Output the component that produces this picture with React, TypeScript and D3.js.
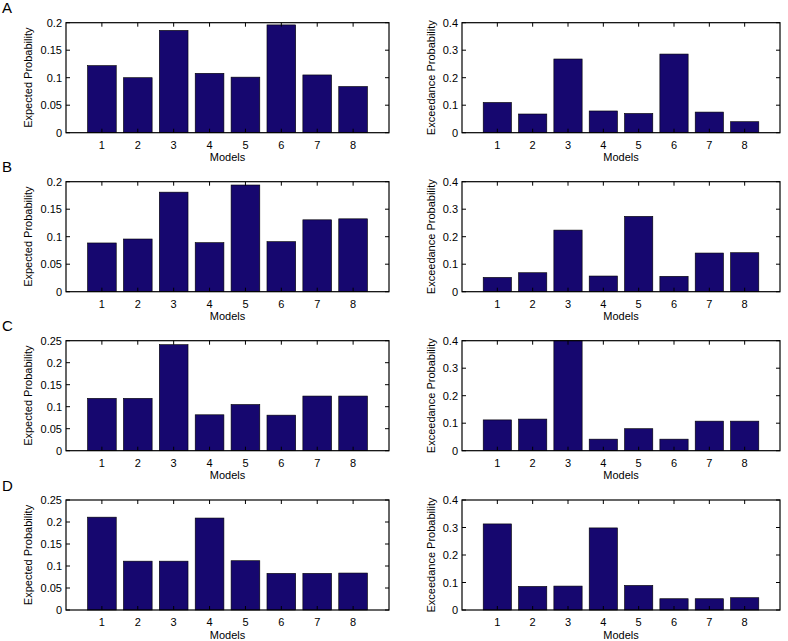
import React from "react";
import * as d3 from "d3";

const models = [1, 2, 3, 4, 5, 6, 7, 8];
const panelLetters = ["A", "B", "C", "D"];

const expectedA = [0.122, 0.1, 0.186, 0.108, 0.101, 0.196, 0.105, 0.084];
const exceedA = [0.11, 0.068, 0.268, 0.079, 0.07, 0.286, 0.075, 0.04];
const expectedB = [0.0886, 0.0958, 0.181, 0.0892, 0.194, 0.091, 0.1307, 0.1325];
const exceedB = [0.052, 0.069, 0.224, 0.057, 0.274, 0.056, 0.1406, 0.1418];
const expectedC = [0.119, 0.119, 0.241, 0.0816, 0.105, 0.0808, 0.1242, 0.1242];
const exceedC = [0.112, 0.115, 0.4, 0.042, 0.08, 0.042, 0.1075, 0.1075];
const expectedD = [0.211, 0.111, 0.111, 0.209, 0.112, 0.0833, 0.0833, 0.084];
const exceedD = [0.313, 0.0858, 0.087, 0.2985, 0.0894, 0.041, 0.041, 0.0447];

const ticksExp20 = [0, 0.05, 0.1, 0.15, 0.2];
const ticksExp25 = [0, 0.05, 0.1, 0.15, 0.2, 0.25];
const ticksExc = [0, 0.1, 0.2, 0.3, 0.4];

const expectedSeries = [expectedA, expectedB, expectedC, expectedD];
const exceedSeries = [exceedA, exceedB, exceedC, exceedD];
const expectedTicks = [ticksExp20, ticksExp20, ticksExp25, ticksExp25];

const FONT = "'Liberation Sans', Arial, Helvetica, sans-serif";
const BAR = "#16076f";

type PanelProps = {
  x0: number;
  x1: number;
  y0: number;
  y1: number;
  values: number[];
  ticks: number[];
  ylabel: string;
  labelX: number;
};

function Panel({ x0, x1, y0, y1, values, ticks, ylabel, labelX }: PanelProps) {
  const x = d3.scaleLinear().domain([0, 9]).range([x0, x1]);
  const y = d3
    .scaleLinear()
    .domain([0, ticks[ticks.length - 1]])
    .range([y1, y0]);
  const bw = x(0.8) - x(0);
  const tl = 4;
  return (
    <g>
      {values.map((v, i) => (
        <rect
          key={i}
          x={x(models[i]) - bw / 2}
          y={y(v)}
          width={bw}
          height={y1 - y(v)}
          fill={BAR}
          stroke="#000"
          strokeWidth={0.6}
        />
      ))}
      <rect x={x0} y={y0} width={x1 - x0} height={y1 - y0} fill="none" stroke="#000" strokeWidth={1.2} />
      {models.map((m) => (
        <g key={m}>
          <line x1={x(m)} x2={x(m)} y1={y1} y2={y1 - tl} stroke="#000" />
          <line x1={x(m)} x2={x(m)} y1={y0} y2={y0 + tl} stroke="#000" />
          <text x={x(m)} y={y1 + 16} textAnchor="middle" fontSize={11} fontFamily={FONT}>
            {m}
          </text>
        </g>
      ))}
      {ticks.map((t) => (
        <g key={t}>
          <line x1={x0} x2={x0 + tl} y1={y(t)} y2={y(t)} stroke="#000" />
          <line x1={x1} x2={x1 - tl} y1={y(t)} y2={y(t)} stroke="#000" />
          <text x={x0 - 4} y={y(t) + 4} textAnchor="end" fontSize={11} fontFamily={FONT}>
            {String(t)}
          </text>
        </g>
      ))}
      <text x={(x0 + x1) / 2} y={y1 + 28.5} textAnchor="middle" fontSize={11} fontFamily={FONT}>
        Models
      </text>
      <text
        transform={`translate(${labelX},${(y0 + y1) / 2}) rotate(-90)`}
        textAnchor="middle"
        fontSize={11}
        fontFamily={FONT}
      >
        {ylabel}
      </text>
    </g>
  );
}

export default function App() {
  const tops = [22.7, 181.7, 340.7, 500];
  const h = 110;
  return (
    <svg
      width={788}
      height={641}
      style={{ position: "absolute", left: 0, top: 0, background: "#fff" }}
    >
      {tops.map((t, r) => (
        <g key={r}>
          <text x={2} y={t - 9.5} fontSize={15} fontFamily={FONT}>
            {panelLetters[r]}
          </text>
          <Panel
            x0={66}
            x1={389}
            y0={t}
            y1={t + h}
            values={expectedSeries[r]}
            ticks={expectedTicks[r]}
            ylabel="Expected Probability"
            labelX={32}
          />
          <Panel
            x0={462}
            x1={780}
            y0={t}
            y1={t + h}
            values={exceedSeries[r]}
            ticks={ticksExc}
            ylabel="Exceedance Probability"
            labelX={435}
          />
        </g>
      ))}
    </svg>
  );
}
